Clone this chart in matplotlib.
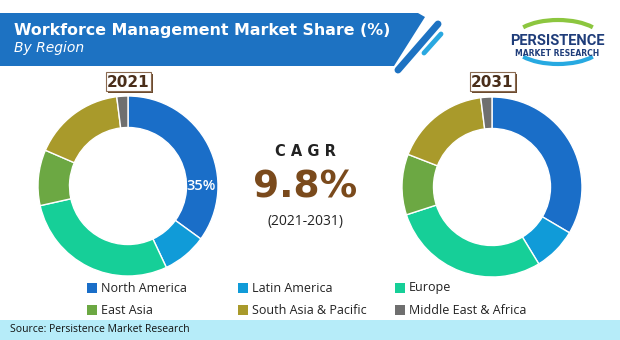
import matplotlib
matplotlib.use('Agg')
import matplotlib.pyplot as plt
from matplotlib.patches import Polygon, Rectangle, Arc

# market share by region (%)
regions = ['North America', 'Latin America', 'Europe',
           'East Asia', 'South Asia & Pacific', 'Middle East & Africa']
share_2021 = [35, 8, 28.5, 10, 16.5, 2]
share_2031 = [33.5, 7.8, 28.7, 10.9, 17.1, 2]
colors = ['#1a6ec8', '#109bd8', '#16cf98', '#6ca843', '#a99a2b', '#6f6f6f']
years = ['2021', '2031']
cagr = '9.8%'
period = '(2021-2031)'

W, H = 620, 340
fig = plt.figure(figsize=(6.2, 3.4), dpi=100)
fig.patch.set_facecolor('white')

# background layer in pixel coordinates
bg = fig.add_axes([0, 0, 1, 1])
bg.set_xlim(0, W)
bg.set_ylim(H, 0)
bg.axis('off')

# title banner
bg.add_patch(Polygon([(0, 13), (418, 13), (425, 17), (394, 66), (0, 66)],
                     closed=True, color='#1d72c2', lw=0))
bg.plot([398, 438], [70, 24], color='#1d72c2', lw=5, solid_capstyle='round')
bg.plot([424, 441], [53, 34], color='#2aa8e0', lw=3.5, solid_capstyle='round')
bg.text(14, 30, 'Workforce Management Market Share (%)', color='white',
        fontsize=11.4, fontweight='bold', va='center', family='DejaVu Sans')
bg.text(14, 48, 'By Region', color='white', fontsize=10, style='italic',
        va='center', family='DejaVu Sans')

# logo
bg.add_patch(Arc((558, 40), 90, 40, theta1=200, theta2=340, color='#8cc63f', lw=3))
bg.add_patch(Arc((558, 44), 90, 40, theta1=20, theta2=160, color='#27a9e1', lw=3))
bg.text(557, 41, 'PERSISTENCE', color='#1f3d7a', fontsize=10.5, fontweight='bold',
        ha='center', va='center', family='Roboto')
bg.text(557, 54, 'MARKET RESEARCH', color='#1f3d7a', fontsize=5.5, fontweight='bold',
        ha='center', va='center', family='DejaVu Sans')

# footer
bg.add_patch(Rectangle((0, 320), W, 20, color='#b6ecf9', lw=0))
bg.text(10, 330, 'Source: Persistence Market Research', fontsize=7.5,
        va='center', color='#111111', family='Open Sans')

# CAGR block
bg.text(305, 152, 'C A G R', fontsize=10.5, fontweight='bold', ha='center',
        va='center', color='#222222', family='DejaVu Sans')
bg.text(305, 187, cagr, fontsize=27, fontweight='bold', ha='center',
        va='center', color='#7a4a1c', family='DejaVu Sans')
bg.text(305, 222, period, fontsize=10, ha='center', va='center',
        color='#222222', family='Open Sans')

# donuts
centers = [(128, 186), (492, 187)]
R = 90
for (cx, cy), vals, yr in zip(centers, [share_2021, share_2031], years):
    ax = fig.add_axes([(cx - R) / W, (H - cy - R) / H, 2 * R / W, 2 * R / H])
    ax.pie(vals, colors=colors, startangle=90, counterclock=False, radius=1,
           wedgeprops=dict(width=0.35, edgecolor='white', linewidth=1))
    ax.set_xlim(-1, 1)
    ax.set_ylim(-1, 1)
    ax.axis('off')
    # year tag with shadow
    bg.add_patch(Rectangle((cx - 20, 74), 45, 19, color='#6b4a2e', lw=0))
    bg.add_patch(Rectangle((cx - 22, 72), 45, 19, facecolor='white',
                           edgecolor='#8a6a50', lw=0.8))
    bg.text(cx + 0.5, 82.5, yr, fontsize=11, fontweight='bold', ha='center',
            va='center', color='#4a2e1a', family='DejaVu Sans')
    if yr == '2021':
        ax.text(0.81, 0, f'{vals[0]:.0f}%', color='white', fontsize=10.5,
                fontweight='semibold', ha='center', va='center', family='Open Sans')

# legend
lx = [92, 243, 400]
ly = [288, 310]
for i, (name, c) in enumerate(zip(regions, colors)):
    x, y = lx[i % 3], ly[i // 3]
    bg.add_patch(Rectangle((x - 5, y - 5), 10, 10, color=c, lw=0))
    bg.text(x + 9, y, name, fontsize=9, va='center', color='#222222',
            family='Open Sans')

fig.savefig('out.png', dpi=100)
